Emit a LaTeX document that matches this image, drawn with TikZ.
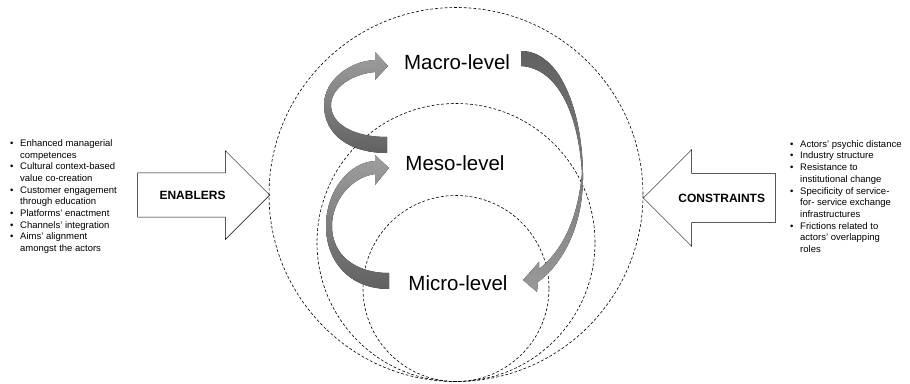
\documentclass[tikz,border=0pt]{standalone}
\usepackage{fontspec}
\setmainfont{Liberation Sans}
\usetikzlibrary{shapes.arrows}

\newcommand{\bitem}[1]{\makebox[10pt][l]{\textbullet}#1}
\newcommand{\bcont}[1]{\hspace*{10pt}#1}

\begin{document}
\begin{tikzpicture}[x=1pt, y=-1pt,
          ring/.style={draw, circle, dash pattern=on 2.8pt off 2pt, line width=0.6pt, inner sep=0pt},
          level/.style={font=\fontsize{20.5}{24}\selectfont, inner sep=0pt},
          bullets/.style={align=left, font=\fontsize{9.5}{11.7}\selectfont, inner sep=0pt, anchor=west},
          blockarrow/.style={draw, single arrow, line width=0.5pt, minimum height=132pt, minimum width=88pt,
            single arrow head extend=22pt, inner xsep=0pt, inner ysep=17.7pt, font=\fontsize{12}{14}\selectfont\bfseries},
          ribbonup/.style={top color=black!38, bottom color=black!62},
          ribbondown/.style={top color=black!62, middle color=black!25, bottom color=black!40}
        ]
          \useasboundingbox (0,0) rectangle (910,383);

          % Nested levels
          \node[ring, minimum size=374pt] (outer) at (456,194.5) {};
          \node[ring, minimum size=278pt] (middle) at (456,242.5) {};
          \node[ring, minimum size=186pt] (inner) at (456,288.5) {};

          \node[level] (macro) at (457,62) {Macro-level};
          \node[level] (meso) at (455,163) {Meso-level};
          \node[level] (micro) at (458,283) {Micro-level};

          % Ribbons between levels
          \fill[ribbonup] (387,153) .. controls (350,153) and (324,135) .. (324,105)
            .. controls (324,80) and (350,61) .. (375,60) -- (375,52) -- (388,66) -- (375,80) -- (375,72)
            .. controls (352,74) and (331,88) .. (331,105) .. controls (331,125) and (355,137) .. (387,137) -- cycle;
          \fill[ribbonup] (389,289) .. controls (350,289) and (326,262) .. (326,226)
            .. controls (326,190) and (350,162) .. (375,161) -- (375,155) -- (389,168) -- (375,185) -- (375,174)
            .. controls (352,177) and (332,200) .. (332,226) .. controls (332,255) and (355,273) .. (389,273) -- cycle;
          \fill[ribbondown] (521,51) .. controls (560,51) and (582,110) .. (583,173)
            .. controls (584,222) and (565,262) .. (538,282) -- (537,292) -- (523,280) -- (539,262) -- (539,269)
            .. controls (563,250) and (578,218) .. (582,173) .. controls (578,110) and (556,68) .. (521,66) -- cycle;

          % Enablers and constraints
          \node[blockarrow, anchor=tip] (enablers) at (270,195) {ENABLERS};
          \node[blockarrow, shape border rotate=180, anchor=tip, minimum width=96pt, inner ysep=20.2pt,
            single arrow head extend=23.5pt] (constraints) at (643,198) {CONSTRAINTS};

          \node[bullets] (enablerlist) at (10,196.5) {\bitem{Enhanced managerial}\\ \bcont{competences}\\
            \bitem{Cultural context-based}\\ \bcont{value co-creation}\\
            \bitem{Customer engagement}\\ \bcont{through education}\\
            \bitem{Platforms' enactment}\\ \bitem{Channels' integration}\\
            \bitem{Aims' alignment}\\ \bcont{amongst the actors}};
          \node[bullets] (constraintlist) at (790,196.5) {\bitem{Actors' psychic distance}\\ \bitem{Industry structure}\\
            \bitem{Resistance to}\\ \bcont{institutional change}\\
            \bitem{Specificity of service-}\\ \bcont{for- service exchange}\\ \bcont{infrastructures}\\
            \bitem{Frictions related to}\\ \bcont{actors' overlapping}\\ \bcont{roles}};

        \end{tikzpicture}
\end{document}
